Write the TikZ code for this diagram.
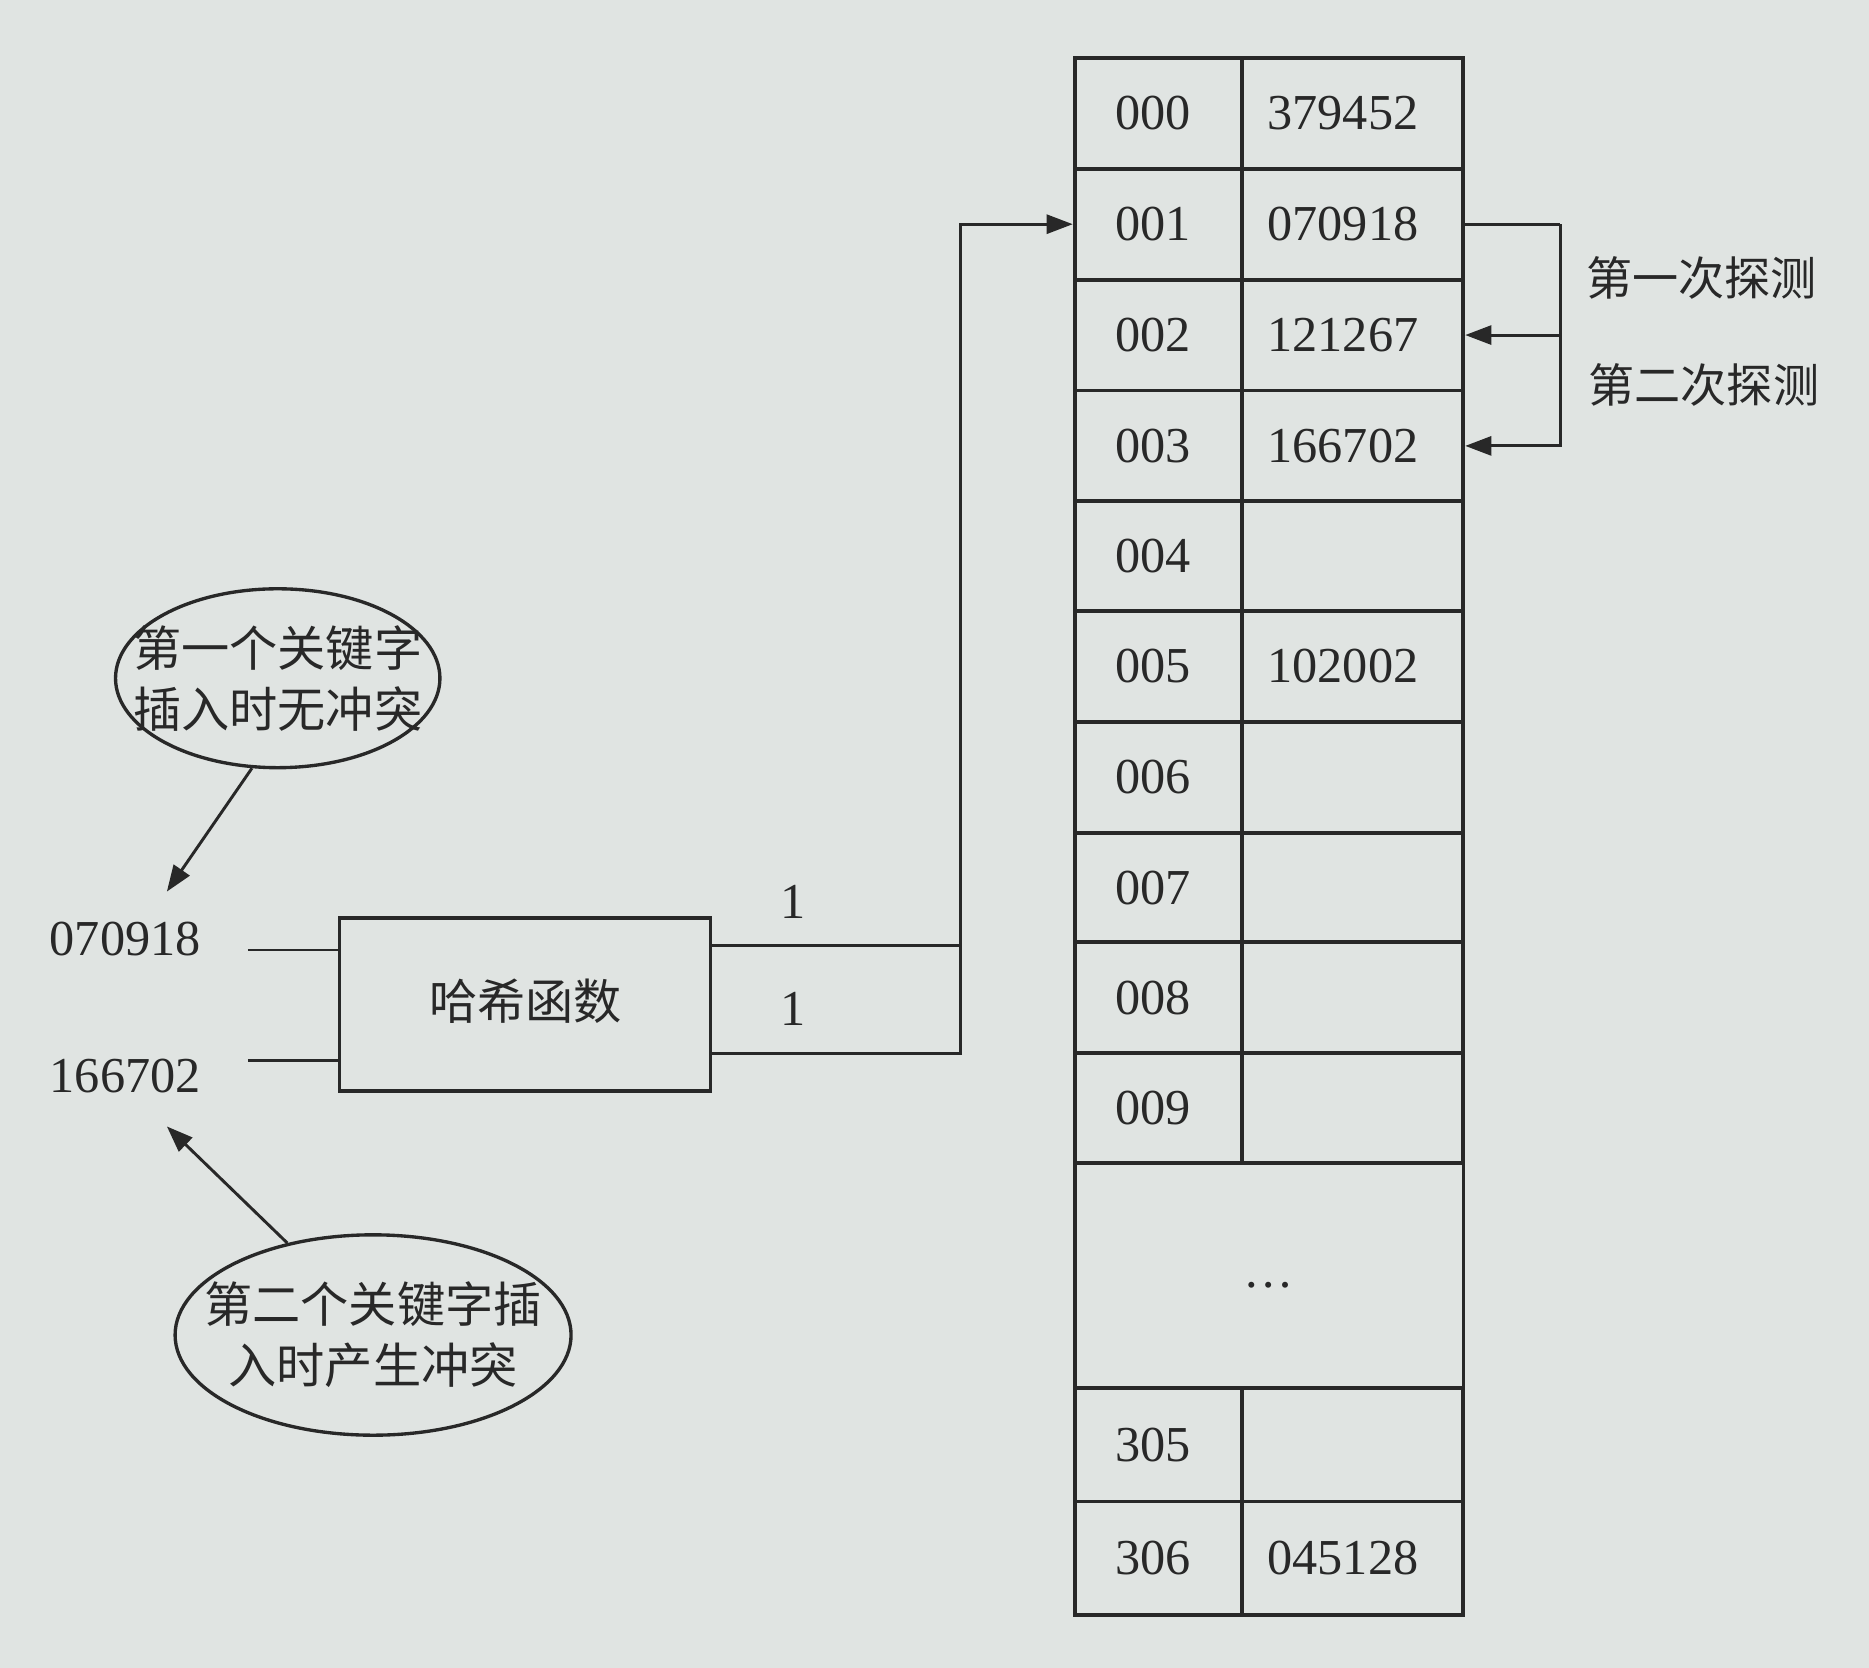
\documentclass[tikz,border=0pt]{standalone}
\usepackage{fontspec}
\setmainfont{Liberation Serif}
\newfontfamily\cjk{Noto Sans CJK SC}
\usetikzlibrary{arrows.meta,shapes.geometric,calc}
\definecolor{paper}{RGB}{224,228,226}
\definecolor{ink}{RGB}{40,40,40}
\begin{document}
\begin{tikzpicture}[x=0.01cm,y=-0.01cm,
  line width=0.7pt, draw=ink, text=ink,
  cell/.style={draw=ink, line width=0.9pt, rectangle, inner sep=0pt, anchor=north west},
  num/.style={font=\fontsize{12}{14}\selectfont, inner sep=1pt},
  cn/.style={font=\cjk\fontsize{11}{14}\selectfont, inner sep=1pt},
  bubble/.style={draw=ink, ellipse, line width=0.8pt, inner sep=0pt},
  btext/.style={align=center, inner sep=0pt, font=\cjk\fontsize{11.5}{14.5}\selectfont},
  tip/.style={-{Triangle[length=2.2mm,width=1.6mm]}}
]
\fill[paper] (0,0) rectangle (1568,1399);
\useasboundingbox (0,0) rectangle (1568,1399);

% table cells: key column x 900-1040, value column x 1040-1226
\foreach \k/\v/\ya/\yb in {000/379452/47/140, 001/070918/140/233, 002/121267/233/326, 003/166702/326/419, 004//419/511, 005/102002/511/604, 006//604/697, 007//697/789, 008//789/882, 009//882/974, 305//1163/1258, 306/045128/1258/1353}{
  \node[cell, minimum width=1.40cm, minimum height={(\yb-\ya)*0.01cm}] (k\k) at (900,\ya) {};
  \node[num] at ($(k\k.center)+(-4,0)$) {\k};
  \node[cell, minimum width=1.86cm, minimum height={(\yb-\ya)*0.01cm}] (v\k) at (1040,\ya) {};
  \node[num] at ($(v\k.center)+(-8,0)$) {\v};
}
\node[cell, minimum width=3.26cm, minimum height=1.89cm] (dots) at (900,974) {};
\node[num] at ($(dots.center)+(0,8)$) {\ldots};

% probing arrows
\coordinate (p1) at (1309,188);
\draw (v001.east |- p1) -- (p1);
\draw[tip] (p1) |- (v002.east);
\draw[tip] (p1 |- v002.east) |- (v003.east);
\node[cn, anchor=west] (l1) at (1326,233) {第一次探测};
\node[cn, anchor=west] (l2) at (1328,323) {第二次探测};

% hash function box
\node[draw=ink, line width=0.9pt, minimum width=3.11cm, minimum height=1.45cm, inner sep=0pt] (hash) at (440.5,842.5) {};
\node[cn, font=\cjk\fontsize{11.5}{14}\selectfont] at (441,840) {哈希函数};

% inputs
\node[num] (in1) at (105,788) {070918};
\node[num] (in2) at (105,903) {166702};
\coordinate (i1) at (208,797);
\coordinate (i2) at (208,890);
\draw (i1) -- (i1 -| hash.west);
\draw (i2) -- (i2 -| hash.west);

% outputs
\coordinate (o1) at (596,793);
\coordinate (o2) at (596,884);
\coordinate (b1) at (806,793);
\coordinate (b2) at (806,884);
\draw (o1) -- (b1);
\draw[tip] (o2) -- (b2) -- (b2 |- k001.west) -- (k001.west);
\node[num] (one1) at (665,757) {1};
\node[num] (one2) at (665,846) {1};

% bubbles
\node[bubble, minimum width=2.72cm, minimum height=1.50cm] (e1) at (233,569) {};
\node[btext] at (e1.center) {第一个关键字\\插入时无冲突};
\coordinate (a1) at (140,748);
\draw[tip] (e1.-106) -- (a1);
\node[bubble, minimum width=3.32cm, minimum height=1.68cm] (e2) at (313,1120) {};
\node[btext] at (e2.center) {第二个关键字插\\入时产生冲突};
\coordinate (a2) at (140,945);
\draw[tip] (e2.133) -- (a2);
\end{tikzpicture}
\end{document}
